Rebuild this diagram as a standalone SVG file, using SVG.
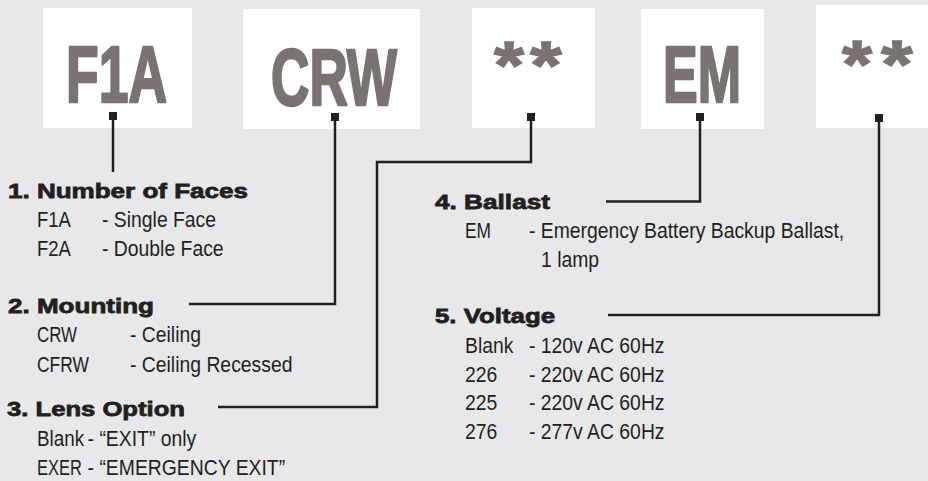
<svg xmlns="http://www.w3.org/2000/svg" width="928" height="481" viewBox="0 0 928 481">
<style>
.bg{fill:#e8e8ea}
.box{fill:#ffffff}
.big{font-family:"Liberation Sans",Arial,sans-serif;font-weight:bold;font-size:79px;fill:#7a7371;stroke:#7a7371;stroke-width:2.5;stroke-linejoin:round}
.ast{font-family:"Liberation Sans",Arial,sans-serif;font-weight:bold;font-size:67px;fill:#7a7371;stroke:#7a7371;stroke-width:1.5;text-anchor:middle}
.hd{font-family:"Liberation Sans",Arial,sans-serif;font-weight:bold;font-size:21px;fill:#231f20;stroke:#231f20;stroke-width:0.8}
.tx{font-family:"Liberation Sans",Arial,sans-serif;font-size:22px;fill:#231f20}
.ln{fill:none;stroke:#231f20;stroke-width:2.5}
.sq{fill:#231f20}
</style>
<rect class="bg" x="0" y="0" width="928" height="481"/>

<g id="code-f1a">
<rect class="box" x="43" y="8" width="149" height="120"/>
<text class="big" x="66" y="102" textLength="101" lengthAdjust="spacingAndGlyphs">F1A</text>
<rect class="sq" x="109" y="112" width="8" height="8"/>
</g>
<g id="code-crw">
<rect class="box" x="243" y="9" width="177" height="120"/>
<text class="big" x="271" y="105" textLength="126" lengthAdjust="spacingAndGlyphs">CRW</text>
<rect class="sq" x="331" y="113" width="8" height="8"/>
</g>
<g id="code-lens">
<rect class="box" x="472" y="8" width="123" height="120"/>
<text class="ast" transform="translate(509,0) scale(1.15,1)" x="0" y="88">*</text>
<text class="ast" transform="translate(546,0) scale(1.2,1)" x="0" y="88">*</text>
<rect class="sq" x="527" y="113" width="8" height="8"/>
</g>
<g id="code-em">
<rect class="box" x="641" y="9" width="123" height="120"/>
<text class="big" x="663" y="102" textLength="78" lengthAdjust="spacingAndGlyphs">EM</text>
<rect class="sq" x="696" y="113" width="8" height="8"/>
</g>
<g id="code-voltage">
<rect class="box" x="816" y="5" width="112" height="123"/>
<text class="ast" transform="translate(857,0) scale(1.15,1)" x="0" y="87">*</text>
<text class="ast" transform="translate(897,0) scale(1.2,1)" x="0" y="87">*</text>
<rect class="sq" x="875" y="114" width="8" height="8"/>
</g>

<g id="connectors">
<path class="ln" d="M113 119 V172"/>
<path class="ln" d="M335 121 V304 H189"/>
<path class="ln" d="M531 120 V162 H377 V407 H218"/>
<path class="ln" d="M700 120 V201.5 H606"/>
<path class="ln" d="M879 121 V315 H608"/>
</g>

<g id="faces">
<text class="hd" x="8" y="198" textLength="240" lengthAdjust="spacingAndGlyphs">1. Number of Faces</text>
<g transform="translate(37,0) scale(0.88,1)">
<text class="tx" x="0" y="227" textLength="38.6" lengthAdjust="spacingAndGlyphs">F1A</text><text class="tx" x="73.9" y="227">- Single Face</text>
<text class="tx" x="0" y="256" textLength="38.6" lengthAdjust="spacingAndGlyphs">F2A</text><text class="tx" x="73.9" y="256">- Double Face</text>
</g>
</g>
<g id="mounting">
<text class="hd" x="8" y="313" textLength="146" lengthAdjust="spacingAndGlyphs">2. Mounting</text>
<g transform="translate(37,0) scale(0.88,1)">
<text class="tx" x="0" y="342" textLength="45.5" lengthAdjust="spacingAndGlyphs">CRW</text><text class="tx" x="105.7" y="342">- Ceiling</text>
<text class="tx" x="0" y="372" textLength="59" lengthAdjust="spacingAndGlyphs">CFRW</text><text class="tx" x="105.7" y="372">- Ceiling Recessed</text>
</g>
</g>
<g id="lens">
<text class="hd" x="7" y="416" textLength="178" lengthAdjust="spacingAndGlyphs">3. Lens Option</text>
<g transform="translate(37,0) scale(0.88,1)">
<text class="tx" x="0" y="446" textLength="53.5" lengthAdjust="spacingAndGlyphs">Blank</text><text class="tx" x="57.5" y="446">- “EXIT” only</text>
<text class="tx" x="0" y="475" textLength="51" lengthAdjust="spacingAndGlyphs">EXER</text><text class="tx" x="57.5" y="475">- “EMERGENCY EXIT”</text>
</g>
</g>
<g id="ballast">
<text class="hd" x="435" y="209" textLength="115" lengthAdjust="spacingAndGlyphs">4. Ballast</text>
<g transform="translate(465,0) scale(0.88,1)">
<text class="tx" x="0" y="238" textLength="29.5" lengthAdjust="spacingAndGlyphs">EM</text><text class="tx" x="72.7" y="238">- Emergency Battery Backup Ballast,</text>
<text class="tx" x="86.4" y="267">1 lamp</text>
</g>
</g>
<g id="voltage">
<text class="hd" x="435" y="323" textLength="120" lengthAdjust="spacingAndGlyphs">5. Voltage</text>
<g transform="translate(465,0) scale(0.88,1)">
<text class="tx" x="0" y="353" textLength="55" lengthAdjust="spacingAndGlyphs">Blank</text><text class="tx" x="72.7" y="353">- 120v AC 60Hz</text>
<text class="tx" x="0" y="382">226</text><text class="tx" x="72.7" y="382">- 220v AC 60Hz</text>
<text class="tx" x="0" y="410">225</text><text class="tx" x="72.7" y="410">- 220v AC 60Hz</text>
<text class="tx" x="0" y="439">276</text><text class="tx" x="72.7" y="439">- 277v AC 60Hz</text>
</g>
</g>
</svg>
